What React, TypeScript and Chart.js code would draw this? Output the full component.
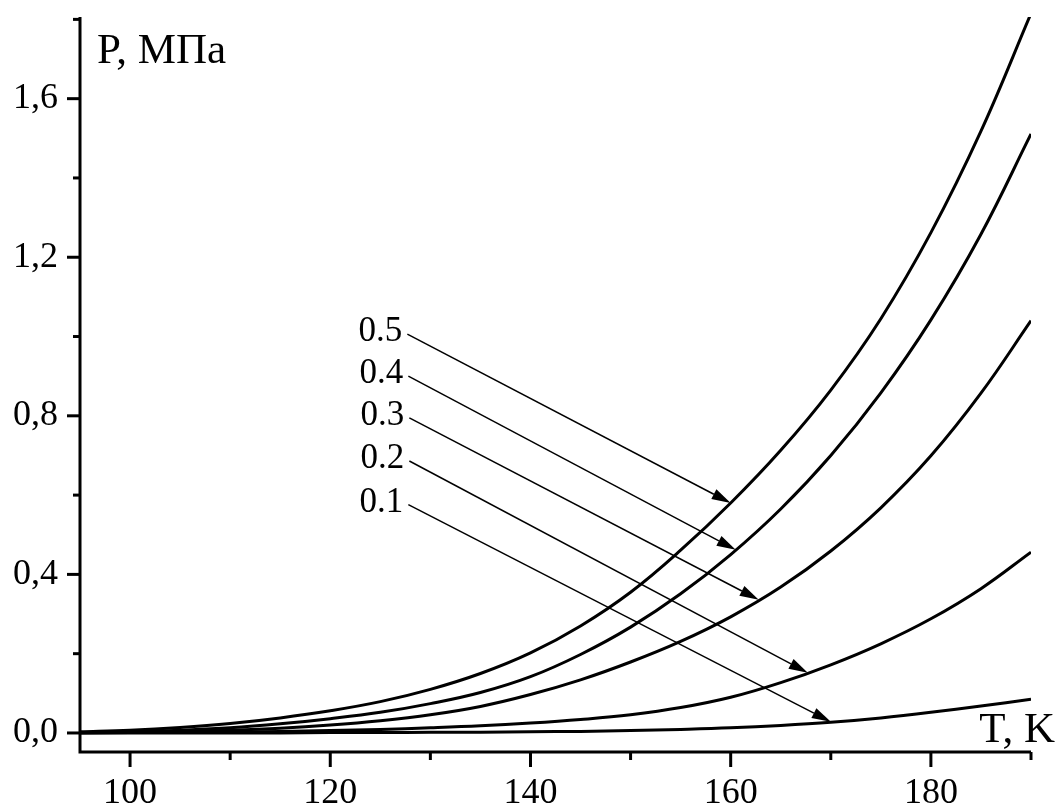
import React, { useEffect, useRef } from 'react';
import { Chart, registerables } from 'chart.js';

Chart.register(...registerables);

// Temperature grid (K)
const temps = [95, 100, 105, 110, 115, 120, 125, 130, 135, 140, 145, 150, 155, 160, 165, 170, 175, 180, 185, 190];

// Pressure (MPa) for each curve
const p01 = [0, 0, 0, 0, 0, 0.001, 0.001, 0.002, 0.002, 0.003, 0.004, 0.006, 0.009, 0.013, 0.019, 0.027, 0.038, 0.052, 0.068, 0.085];
const p02 = [0, 0.001, 0.001, 0.002, 0.004, 0.006, 0.009, 0.013, 0.018, 0.025, 0.034, 0.046, 0.064, 0.09, 0.127, 0.172, 0.225, 0.288, 0.364, 0.456];
const p03 = [0.001, 0.002, 0.004, 0.007, 0.012, 0.02, 0.031, 0.046, 0.067, 0.097, 0.134, 0.179, 0.231, 0.293, 0.368, 0.459, 0.568, 0.699, 0.857, 1.04];
const p04 = [0.001, 0.003, 0.007, 0.013, 0.023, 0.036, 0.052, 0.074, 0.102, 0.142, 0.198, 0.267, 0.351, 0.45, 0.565, 0.7, 0.858, 1.042, 1.258, 1.511];
const p05 = [0.003, 0.007, 0.014, 0.024, 0.038, 0.056, 0.079, 0.11, 0.15, 0.202, 0.27, 0.355, 0.461, 0.58, 0.713, 0.865, 1.045, 1.262, 1.518, 1.815];

const seriesLabels = ['0.1', '0.2', '0.3', '0.4', '0.5'];

// Callout arrows (data coordinates): label anchor -> arrow tip on curve
const arrowStartT = [127.8, 127.9, 127.9, 127.8, 127.7];
const arrowStartP = [0.576, 0.686, 0.795, 0.9, 1.006];
const arrowTipT = [170, 167.7, 162.8, 160.5, 160];
const arrowTipP = [0.028, 0.152, 0.336, 0.462, 0.58];

// Axis ticks
const xTickValues = [100, 110, 120, 130, 140, 150, 160, 170, 180, 190];
const xTickLabels = ['100', '', '120', '', '140', '', '160', '', '180', ''];
const yTickValues = [0, 0.2, 0.4, 0.6, 0.8, 1.0, 1.2, 1.4, 1.6, 1.8];
const yTickLabels = ['0,0', '', '0,4', '', '0,8', '', '1,2', '', '1,6', ''];

const xTitle = 'T, K';
const yTitle = 'P, МПа';

const FONT = '"Liberation Serif", "Times New Roman", serif';

const overlayPlugin = {
  id: 'overlay',
  afterDatasetsDraw(chart: any) {
    const { ctx, chartArea, scales } = chart;
    const xs = scales.x;
    const ys = scales.y;
    const { left, right, top, bottom } = chartArea;
    ctx.save();
    ctx.strokeStyle = '#000';
    ctx.fillStyle = '#000';

    // axes lines
    ctx.lineWidth = 3;
    ctx.lineJoin = 'miter';
    ctx.beginPath();
    ctx.moveTo(left, top);
    ctx.lineTo(left, bottom);
    ctx.lineTo(right, bottom);
    ctx.stroke();

    // y ticks
    yTickValues.forEach((v, i) => {
      const py = ys.getPixelForValue(v);
      const len = yTickLabels[i] ? 13 : 7;
      ctx.beginPath();
      ctx.moveTo(left - len, py);
      ctx.lineTo(left, py);
      ctx.stroke();
    });
    // x ticks
    xTickValues.forEach((v, i) => {
      const px = xs.getPixelForValue(v);
      const len = xTickLabels[i] ? 15 : 8;
      ctx.beginPath();
      ctx.moveTo(px, bottom);
      ctx.lineTo(px, bottom + len);
      ctx.stroke();
    });

    // callout arrows
    ctx.lineWidth = 1.5;
    seriesLabels.forEach((lab, i) => {
      const sx = xs.getPixelForValue(arrowStartT[i]);
      const sy = ys.getPixelForValue(arrowStartP[i]);
      const tx = xs.getPixelForValue(arrowTipT[i]);
      const ty = ys.getPixelForValue(arrowTipP[i]);
      const ang = Math.atan2(ty - sy, tx - sx);
      const hl = 19;
      const hw = 5.5;
      const bx = tx - hl * Math.cos(ang);
      const by = ty - hl * Math.sin(ang);
      ctx.beginPath();
      ctx.moveTo(sx, sy);
      ctx.lineTo(bx, by);
      ctx.stroke();
      ctx.beginPath();
      ctx.moveTo(tx, ty);
      ctx.lineTo(bx + hw * Math.sin(ang), by - hw * Math.cos(ang));
      ctx.lineTo(bx - hw * Math.sin(ang), by + hw * Math.cos(ang));
      ctx.closePath();
      ctx.fill();

      ctx.font = `35px ${FONT}`;
      ctx.textAlign = 'right';
      ctx.textBaseline = 'alphabetic';
      ctx.fillText(lab, sx - 5, sy + 7);
    });

    // axis titles
    ctx.font = `43px ${FONT}`;
    ctx.textAlign = 'left';
    ctx.textBaseline = 'alphabetic';
    ctx.fillText(yTitle, left + 17, top + 46);
    ctx.textAlign = 'right';
    ctx.fillText(xTitle, right + 24, bottom - 10);

    ctx.restore();
  },
};

export default function App() {
  const canvasRef = useRef<HTMLCanvasElement | null>(null);

  useEffect(() => {
    const canvas = canvasRef.current;
    if (!canvas) return;
    const series = [p01, p02, p03, p04, p05];
    const chart = new Chart(canvas, {
      type: 'line',
      data: {
        datasets: series.map((arr, i) => ({
          label: seriesLabels[i],
          data: temps.map((t, j) => ({ x: t, y: arr[j] })),
          borderColor: '#000',
          borderWidth: 3,
          pointRadius: 0,
          fill: false,
          tension: 0.4,
        })),
      },
      options: {
        animation: false,
        responsive: false,
        devicePixelRatio: 1,
        layout: { padding: { top: 17, right: 28, left: 0, bottom: 0 } },
        plugins: {
          legend: { display: false },
          tooltip: { enabled: false },
          title: { display: false },
        },
        scales: {
          x: {
            type: 'linear',
            min: 95,
            max: 190,
            grid: { display: false },
            border: { display: false },
            afterBuildTicks: (s: any) => {
              s.ticks = xTickValues.map((v) => ({ value: v }));
            },
            afterFit: (s: any) => {
              s.height = 55;
              s.paddingLeft = 0;
              s.paddingRight = 0;
            },
            ticks: {
              autoSkip: false,
              maxRotation: 0,
              color: '#000',
              padding: 12,
              font: { family: FONT, size: 36 },
              callback: (_v: any, i: number) => xTickLabels[i],
            },
          },
          y: {
            type: 'linear',
            min: -0.048,
            max: 1.806,
            grid: { display: false },
            border: { display: false },
            afterBuildTicks: (s: any) => {
              s.ticks = yTickValues.map((v) => ({ value: v }));
            },
            afterFit: (s: any) => {
              s.width = 80;
              s.paddingTop = 0;
              s.paddingBottom = 0;
            },
            ticks: {
              autoSkip: false,
              color: '#000',
              padding: 14,
              font: { family: FONT, size: 36 },
              callback: (_v: any, i: number) => yTickLabels[i],
            },
          },
        },
      },
      plugins: [overlayPlugin],
    });
    return () => chart.destroy();
  }, []);

  return (
    <div style={{ position: 'fixed', left: 0, top: 0, width: 1059, height: 807, background: '#fff' }}>
      <canvas ref={canvasRef} width={1059} height={807} style={{ display: 'block' }} />
    </div>
  );
}
